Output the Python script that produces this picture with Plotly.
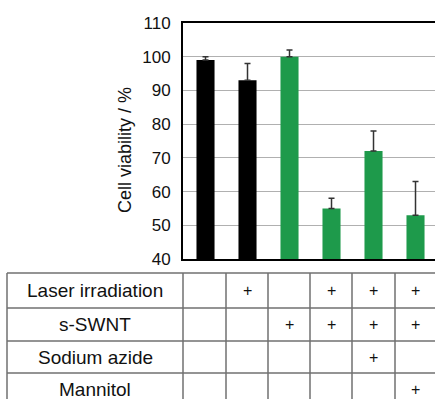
import plotly.graph_objects as go

conditions = ["C1", "C2", "C3", "C4", "C5", "C6"]
viability = [99, 93, 100, 55, 72, 53]
err_plus = [1, 5, 2, 3, 6, 10]
bar_colors = ["#000000", "#000000", "#1e9a4b", "#1e9a4b", "#1e9a4b", "#1e9a4b"]
y_ticks = [40, 50, 60, 70, 80, 90, 100, 110]
row_labels = ["Laser irradiation", "s-SWNT", "Sodium azide", "Mannitol"]
table_marks = [
    ["", "+", "", "+", "+", "+"],
    ["", "", "+", "+", "+", "+"],
    ["", "", "", "", "+", ""],
    ["", "", "", "", "", "+"],
]

W, H = 435, 399
L, R, T, B = 183, 0, 23, 140
pw, ph = W - L - R, H - T - B


def px_x(p):
    return (p - L) / pw


def px_y(p):
    return (H - B - p) / ph


xs = list(range(len(conditions)))
fig = go.Figure()
fig.add_trace(go.Bar(
    x=xs, y=viability, width=0.43,
    marker=dict(color=bar_colors, line=dict(width=0)),
    error_y=dict(type="data", symmetric=False, array=err_plus,
                 arrayminus=[0] * len(err_plus), color="#333333",
                 thickness=1.5, width=3),
    hoverinfo="skip",
))

shapes = []
line_style = dict(color="#707070", width=1.5)
col_edges = [7, 183, 226, 268, 310, 352, 395]
row_edges = [273, 308, 341, 373]
for xe in col_edges:
    shapes.append(dict(type="line", xref="paper", yref="paper",
                       x0=px_x(xe), x1=px_x(xe), y0=px_y(273), y1=px_y(410),
                       line=line_style))
for ye in row_edges:
    shapes.append(dict(type="line", xref="paper", yref="paper",
                       x0=px_x(7), x1=px_x(440), y0=px_y(ye), y1=px_y(ye),
                       line=line_style))

annotations = []
row_centers = [290.5, 324.5, 357, 389.5]
col_centers = [205, 247, 289, 331, 373.5, 415]
for ri, lab in enumerate(row_labels):
    annotations.append(dict(text=lab, xref="paper", yref="paper",
                            x=px_x(95), y=px_y(row_centers[ri]),
                            showarrow=False, xanchor="center", yanchor="middle",
                            font=dict(size=19, color="#111111")))
    for ci, m in enumerate(table_marks[ri]):
        if m:
            annotations.append(dict(text=m, xref="paper", yref="paper",
                                    x=px_x(col_centers[ci]), y=px_y(row_centers[ri]),
                                    showarrow=False, xanchor="center", yanchor="middle",
                                    font=dict(size=16, color="#111111")))

annotations.append(dict(text="Cell viability / %", xref="paper", yref="paper",
                        x=px_x(125), y=px_y(150), textangle=-90, showarrow=False,
                        xanchor="center", yanchor="middle",
                        font=dict(size=18, color="#111111")))

fig.update_layout(
    width=W, height=H,
    margin=dict(l=L, r=R, t=T, b=B, pad=0),
    paper_bgcolor="white", plot_bgcolor="white",
    font=dict(family="Liberation Sans, Arial, sans-serif", color="#111111"),
    showlegend=False,
    shapes=shapes, annotations=annotations,
    xaxis=dict(range=[-0.536, 5.464], showticklabels=False, showgrid=False,
               zeroline=False, showline=True, linecolor="black", linewidth=2,
               mirror=True, ticks=""),
    yaxis=dict(range=[40, 110], tickvals=y_ticks, showgrid=True,
               gridcolor="#b0b0b0", gridwidth=1, zeroline=False,
               showline=True, linecolor="black", linewidth=2,
               ticks="", ticklabelstandoff=7,
               tickfont=dict(size=17, color="#111111")),
)

fig.write_html("out.html", config={"displayModeBar": False},
               post_script="document.body.style.margin='0';document.body.style.overflow='hidden';")
